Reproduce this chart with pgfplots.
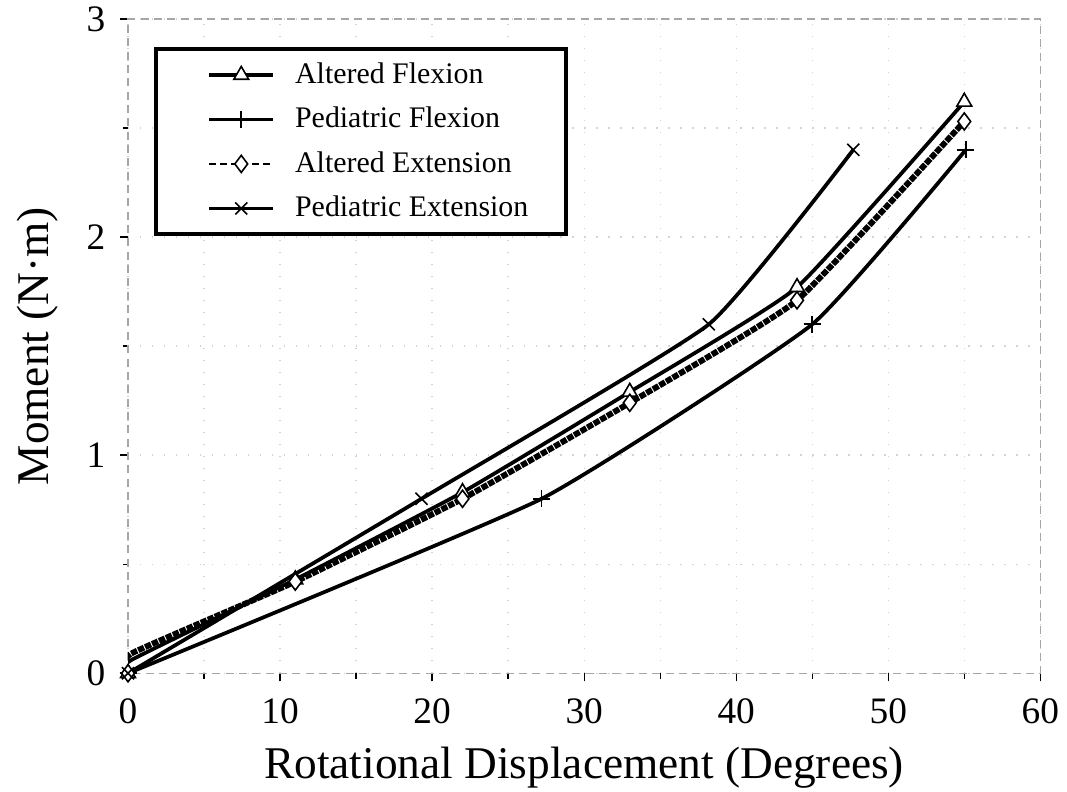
\documentclass[border=0pt]{standalone}
\usepackage{fontspec}
\setmainfont{Liberation Serif}
\usepackage{pgfplots}
\pgfplotsset{compat=1.18}
\begin{document}
\begin{tikzpicture}
\useasboundingbox (-48pt,-44.2pt) rectangle (352pt,252.4pt);
\begin{axis}[
  scale only axis=true,
  width=342pt, height=245.3pt,
  at={(0,0)}, anchor=south west,
  xmin=0, xmax=60, ymin=0, ymax=3,
  xtick={0,10,...,60}, ytick={0,1,2,3},
  minor xtick={5,15,...,55}, minor ytick={0.5,1.5,2.5},
  tick align=outside,
  major tick length=3pt, minor tick length=2pt,
  tick style={black, line width=0.5pt},
  xtick pos=bottom, ytick pos=left,
  axis line style={gray!70, densely dashed, line width=0.5pt},
  grid=both,
  major grid style={gray!35, line width=0.5pt, loosely dotted},
  minor grid style={gray!35, line width=0.5pt, loosely dotted},
  /pgf/number format/assume math mode=true,
  tick label style={font=\fontsize{14}{16}\selectfont, black},
  xticklabel style={yshift=-3pt},
  yticklabel style={xshift=-2pt},
  xlabel={Rotational Displacement (Degrees)},
  ylabel={Moment (N·m)},
  label style={font=\fontsize{17}{20}\selectfont},
  xlabel style={at={(axis description cs:0.5,-0.145)}, anchor=center},
  ylabel style={at={(axis description cs:-0.099,0.5)}, anchor=center},
  legend style={at={(axis cs:1.7,2.87)}, anchor=north west, draw=black, line width=1.5pt,
    font=\fontsize{11.2}{13}\selectfont, inner xsep=12pt, inner ysep=3pt,
    row sep=3.4pt, column sep=5.5pt, cells={anchor=west}, legend cell align=left},
  legend image code/.code={\path[draw=none,fill=none] (-8pt,-1pt) rectangle (-8pt,1pt);
    \draw[mark indices={2}] plot coordinates {(0pt,0pt)(12pt,0pt)(24pt,0pt)};},
]
\addplot[black, line width=1.4pt, smooth, tension=0.25, mark=triangle*, mark size=3.2pt,
  mark indices={1,3,4,5,6,7},
  mark options={solid, fill=white, line width=0.6pt}]
  coordinates {(0,0) (0.2,0.06) (11,0.43) (22,0.83) (33,1.29) (44,1.77) (55,2.62)};
\addlegendentry{Altered Flexion}
\addplot[black, line width=1.4pt, smooth, tension=0.25, mark=+, mark size=3.2pt,
  mark options={solid, line width=0.6pt}]
  coordinates {(0,0) (27.2,0.80) (45.0,1.60) (55.1,2.40)};
\addlegendentry{Pediatric Flexion}
\addplot[black, line width=2.2pt, smooth, tension=0.25, dash pattern=on 2.4pt off 0.45pt,
  mark=diamond*, mark size=3.2pt, mark indices={1,3,4,5,6,7},
  mark options={solid, fill=white, line width=0.6pt},
  legend image post style={line width=1pt, dash pattern=on 2.5pt off 1.5pt}]
  coordinates {(0,0) (0.2,0.09) (11,0.42) (22,0.80) (33,1.24) (44,1.71) (55,2.53)};
\addlegendentry{Altered Extension}
\addplot[black, line width=1.4pt, smooth, tension=0.25, mark=x, mark size=3.2pt,
  mark options={solid, line width=0.6pt}]
  coordinates {(0,0) (19.3,0.80) (38.2,1.60) (47.7,2.40)};
\addlegendentry{Pediatric Extension}
\end{axis}
\end{tikzpicture}
\end{document}
